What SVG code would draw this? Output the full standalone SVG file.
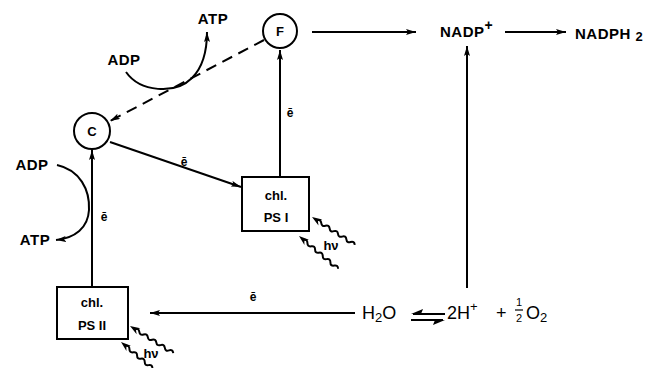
<svg xmlns="http://www.w3.org/2000/svg" width="658" height="368" viewBox="0 0 658 368">
<defs>
<marker id="ah" viewBox="0 0 10 6" refX="10" refY="3" markerWidth="10" markerHeight="6" markerUnits="userSpaceOnUse" orient="auto">
<path d="M0,0 L10,3 L0,6 L2,3 Z" fill="#000"/>
</marker>
<g id="wave">
<path d="M6,0 q2.5,-3 5,0 t5,0 t5,0 t5,0 t5,0 t5,0 t5,0 t5,0 t5,0" fill="none" stroke="#000" stroke-width="2"/>
<path d="M0,0 L10,-3.5 L7,0 L10,3.5 Z" fill="#000"/>
</g>
</defs>
<style>
text{font-family:"Liberation Sans",Arial,sans-serif;fill:#000}
.b{font-weight:bold;font-size:15px;letter-spacing:0.5px}
.s{font-weight:bold;font-size:13px}
.e{font-size:12px;font-weight:bold}
.m{font-size:18px}
.ln{stroke:#000;stroke-width:2;fill:none}
.node{fill:#fff;stroke:#000;stroke-width:2}
</style>
<rect width="658" height="368" fill="#fff"/>

<g id="connectors">
<line class="ln" x1="264" y1="40" x2="110" y2="121" stroke-dasharray="11,7" marker-end="url(#ah)"/>
<path class="ln" d="M126,72 C140,92 175,95 192,78 C203,67 207,50 207,32" marker-end="url(#ah)"/>
<line class="ln" x1="280" y1="177" x2="280" y2="50" marker-end="url(#ah)"/>
<line class="ln" x1="110" y1="142" x2="241" y2="187" marker-end="url(#ah)"/>
<line class="ln" x1="92" y1="287" x2="92" y2="150" marker-end="url(#ah)"/>
<path class="ln" d="M57,165 C80,170 90,190 89,210 C88,228 75,238 56,240" marker-end="url(#ah)"/>
<line class="ln" x1="312" y1="32" x2="416" y2="32" marker-end="url(#ah)"/>
<line class="ln" x1="505" y1="32" x2="566" y2="32" marker-end="url(#ah)"/>
<line class="ln" x1="467" y1="288" x2="467" y2="46" marker-end="url(#ah)"/>
<line class="ln" x1="355" y1="313" x2="150" y2="313" marker-end="url(#ah)"/>
<g id="equilibrium">
<path class="ln" d="M445,314 L413,314" stroke-width="2.5"/>
<path d="M411,314 L423,309 L421,314 Z" fill="#000"/>
<path class="ln" d="M411,320 L443,320" stroke-width="2.5"/>
<path d="M445,320 L433,325 L435,320 Z" fill="#000"/>
</g>
<use href="#wave" transform="translate(312,217) rotate(33)"/>
<use href="#wave" transform="translate(299,236) rotate(40)"/>
<use href="#wave" transform="translate(130,326) rotate(32)"/>
<use href="#wave" transform="translate(121,342) rotate(40)"/>
</g>

<g id="F">
<circle class="node" cx="280" cy="31" r="17"/>
<text class="s" x="280" y="36" text-anchor="middle">F</text>
</g>
<g id="C">
<circle class="node" cx="92" cy="131" r="18"/>
<text class="s" x="92" y="136" text-anchor="middle">C</text>
</g>
<g id="PSI">
<rect class="node" x="242" y="177" width="67" height="54"/>
<text class="s" x="276" y="200" text-anchor="middle">chl.</text>
<text class="s" x="276" y="222" text-anchor="middle">PS I</text>
</g>
<g id="PSII">
<rect class="node" x="57" y="287" width="71" height="52"/>
<text class="s" x="92" y="307" text-anchor="middle">chl.</text>
<text class="s" x="92" y="330" text-anchor="middle">PS II</text>
</g>
<g id="labels">
<text class="b" x="213" y="24" text-anchor="middle">ATP</text>
<text class="b" x="124" y="65" text-anchor="middle">ADP</text>
<text class="b" x="32" y="170" text-anchor="middle">ADP</text>
<text class="b" x="35" y="245" text-anchor="middle">ATP</text>
<text class="e" x="290" y="117" text-anchor="middle">ē</text>
<text class="e" x="184" y="166" text-anchor="middle">ē</text>
<text class="e" x="104" y="221" text-anchor="middle">ē</text>
<text class="e" x="253" y="301" text-anchor="middle">ē</text>
<text class="s" x="331" y="250" text-anchor="middle" font-size="14">hν</text>
<text class="s" x="151" y="358" text-anchor="middle" font-size="14">hν</text>
<text class="b" x="440" y="37" font-size="15" letter-spacing="0">NADP<tspan dy="-7" font-size="14">+</tspan></text>
<text class="b" x="575" y="39" font-size="15" letter-spacing="0">NADPH <tspan dy="2" font-size="13">2</tspan></text>
<text class="m" x="362" y="319">H<tspan font-size="13" dy="3">2</tspan><tspan dy="-3">O</tspan></text>
<text class="m" x="447" y="319">2H<tspan font-size="13" dy="-8">+</tspan></text>
<text class="m" x="496" y="319">+</text>
<text x="519" y="306" font-size="11" text-anchor="middle">1</text>
<line x1="515" y1="310" x2="523" y2="310" stroke="#000" stroke-width="1.2"/>
<text x="519" y="322" font-size="11" text-anchor="middle">2</text>
<text class="m" x="526" y="319">O<tspan font-size="13" dy="3">2</tspan></text>
</g>
</svg>
